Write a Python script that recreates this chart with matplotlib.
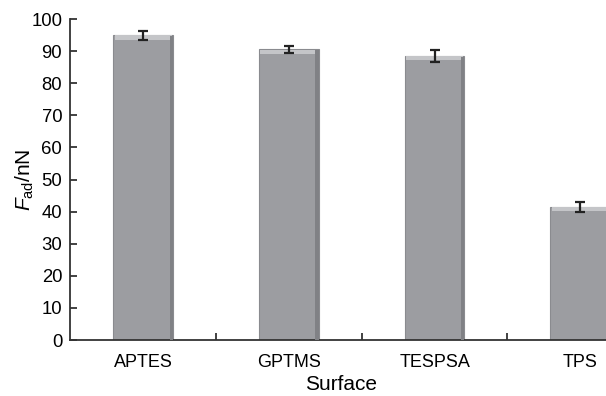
import numpy as np
import matplotlib.pyplot as plt

plt.rcParams['font.family'] = 'Liberation Sans'
plt.rcParams['mathtext.fontset'] = 'custom'
plt.rcParams['mathtext.rm'] = 'Liberation Sans'
plt.rcParams['mathtext.it'] = 'Liberation Sans:italic'

# Adhesion force per surface
surfaces = ['APTES', 'GPTMS', 'TESPSA', 'TPS']
force = [95.0, 90.6, 88.5, 41.5]
force_err = [1.4, 1.1, 1.9, 1.6]

fig = plt.figure(figsize=(6.06, 3.96), dpi=100)
# axes runs past the right edge, as in the original (last bar is cut)
ax = fig.add_axes([0.1163, 0.1414, 0.9613, 0.8106])

x = np.arange(len(surfaces))
w = 0.41
ax.bar(x, force, width=w, color='#9c9da1', edgecolor='#8a8b8f', linewidth=0.8, zorder=2)
# bevel: light band on top, darker strip on the right
ax.bar(x, [1.3] * len(x), width=w * 0.96, bottom=np.array(force) - 1.4,
       color='#c4c5c8', linewidth=0, zorder=3)
ax.bar(x + w / 2 - 0.012, np.array(force) - 0.3, width=0.022,
       color='#808185', linewidth=0, zorder=3)
ax.errorbar(x, force, yerr=force_err, fmt='none', ecolor='#222222',
            elinewidth=1.6, capsize=3.5, capthick=1.6, zorder=4)

ax.set_xlim(-0.5, 3.5)
ax.set_ylim(0, 100)
ax.set_yticks(range(0, 101, 10))
ax.set_xticks(x)
ax.set_xticklabels(surfaces)
ax.set_xticks([0.5, 1.5, 2.5], minor=True)
ax.tick_params(axis='x', which='major', length=0, pad=10, labelsize=13)
ax.tick_params(axis='x', which='minor', direction='in', length=5, width=1.3, color='#333333')
ax.tick_params(axis='y', direction='in', length=5, width=1.3, color='#333333',
               labelsize=13.3, pad=6)

for side in ['top', 'right']:
    ax.spines[side].set_visible(False)
for side in ['left', 'bottom']:
    ax.spines[side].set_linewidth(1.3)
    ax.spines[side].set_color('#333333')

ax.set_xlabel('Surface', fontsize=15)
ax.xaxis.set_label_coords(0.464, -0.11)
ax.set_ylabel(r'$F_{\mathrm{ad}}$/nN', fontsize=15)
ax.yaxis.set_label_coords(-0.06, 0.5)

fig.savefig('out.png', dpi=100)
